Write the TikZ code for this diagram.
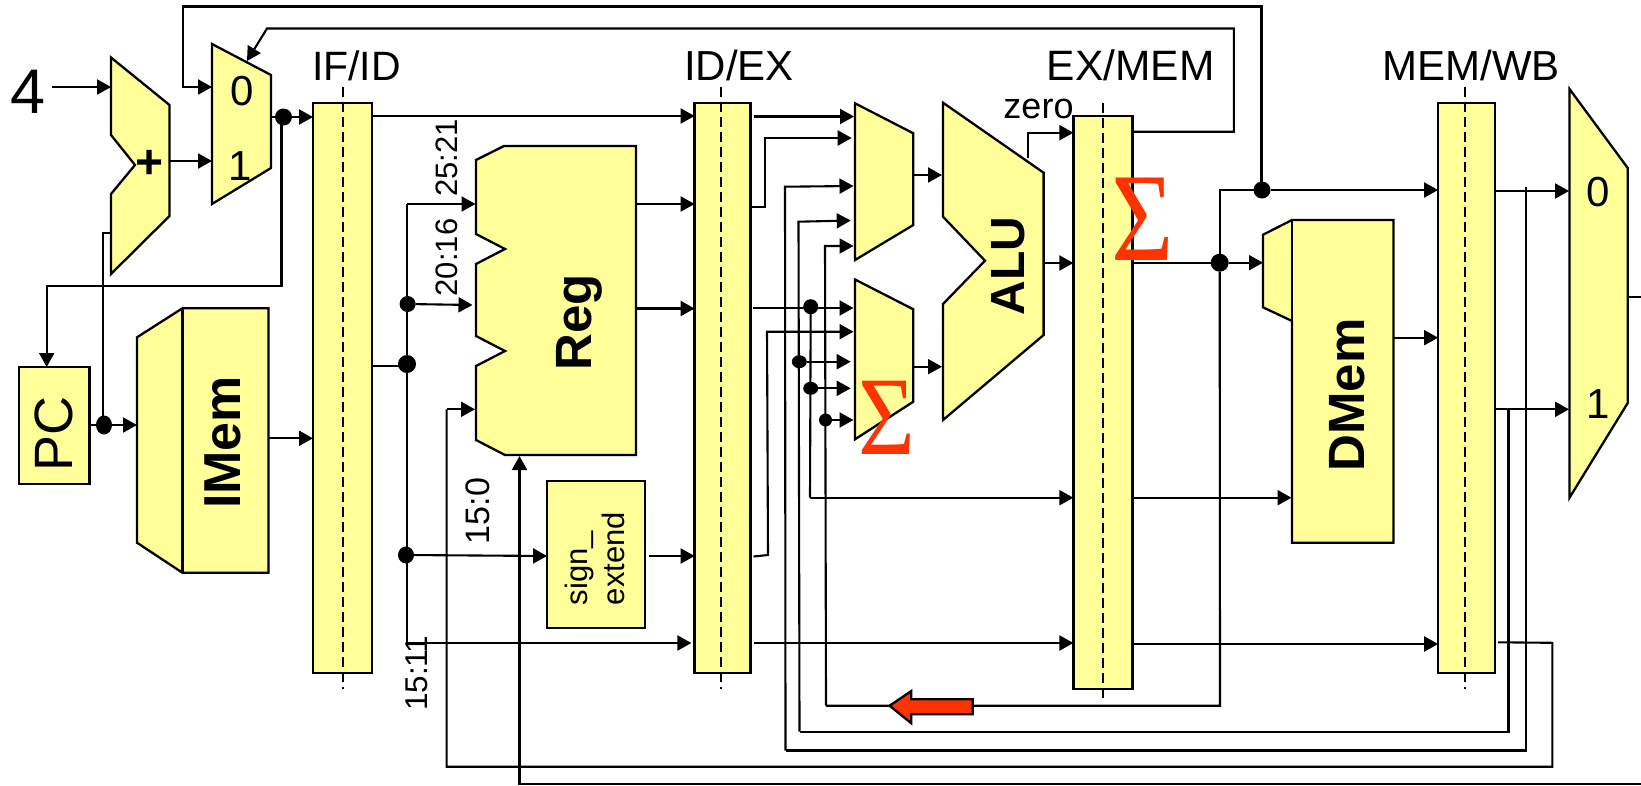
\documentclass[tikz,border=0pt]{standalone}
\usepackage{fontspec}
\setmainfont{Liberation Sans}
\newfontfamily\sigmaserif{Liberation Serif}
\usetikzlibrary{arrows.meta,shapes.geometric}
\newcommand\pxfont[1]{\fontsize{#1}{#1}\selectfont}
\definecolor{padyellow}{HTML}{FFFF99}
\definecolor{sigred}{HTML}{FF3300}
\tikzset{
  wire/.style={draw=black,line width=2.1pt,line join=miter},
  arr/.style={wire,-{Triangle[length=14pt,width=15pt]}},
  unit/.style={draw=black,fill=padyellow,line width=2.3pt,line join=miter},
  bar/.style={unit,rectangle,inner sep=0pt,outer sep=0pt,minimum width=#1},
  bar/.default=57pt,
  dot/.style={ellipse,fill=black,inner sep=0pt,outer sep=0pt,minimum width=#1,minimum height=#1},
  dot/.default=16pt,
  dash line/.style={draw=black,line width=2pt,dash pattern=on 10pt off 5pt},
  rot/.style={rotate=90,anchor=base,inner sep=0pt,outer sep=0pt},
  rotstart/.style={rotate=90,anchor=base west,inner sep=0pt,outer sep=0pt},
  txt/.style={inner sep=0pt,outer sep=0pt,anchor=base},
}
\begin{document}
\begin{tikzpicture}[x=1pt,y=-1pt]
\useasboundingbox (0,0) rectangle (1641,785);
% pipeline registers
\node[bar=59pt,minimum height=570pt] (ifid) at (342.5,388) {};
\node[bar=56pt,minimum height=570pt] (idex) at (722.6,388) {};
\node[bar=59pt,minimum height=573pt] (exmem) at (1102.9,402.6) {};
\node[bar=57pt,minimum height=570pt] (memwb) at (1466.6,388) {};
\coordinate (ifidT) at (342.5,87); \coordinate (ifidB) at (342.5,689);
\coordinate (idexT) at (721.2,87); \coordinate (idexB) at (721.2,689);
\coordinate (exmemT) at (1102.6,103); \coordinate (exmemB) at (1102.6,702);
\coordinate (memwbT) at (1465.3,87); \coordinate (memwbB) at (1465.3,689);
\draw[dash line] (ifidT) -- (ifidB);
\draw[dash line] (idexT) -- (idexB);
\draw[dash line] (exmemT) -- (exmemB);
\draw[dash line] (memwbT) -- (memwbB);
% register labels
\node[txt,font=\pxfont{41}] (lifid) at (356.5,80) {IF/ID};
\node[txt,font=\pxfont{42}] (lidex) at (739,80) {ID/EX};
\node[txt,font=\pxfont{42.5}] (lexmem) at (1130.6,80) {EX/MEM};
\node[txt,font=\pxfont{42}] (lmemwb) at (1471,80) {MEM/WB};
% functional units
\draw[unit] (111,57.5) -- (169.5,105) -- (169.5,216) -- (111,274) -- (111,194) -- (135,165) -- (111,135) -- cycle;
\node[inner sep=0pt,font=\pxfont{48}\bfseries] (plus) at (150,164) {+};
\draw[unit] (212,44) -- (271,75) -- (271,168) -- (212,204) -- cycle;
\node[txt,font=\pxfont{42}] (mz) at (242,105) {0};
\node[txt,font=\pxfont{42}] (mo) at (240.5,180) {1};
\node[unit,rectangle,inner sep=0pt,outer sep=0pt,minimum width=70.2pt,minimum height=117pt] (pc) at (54.4,425.5) {};
\node[rot,font=\pxfont{54}] (pct) at (72.5,434) {PC};
\draw[unit] (137,337.3) -- (182.4,308.3) -- (268.4,308.3) -- (268.4,572.7) -- (182.4,572.7) -- (137,542.7) -- cycle;
\draw[unit] (182.4,308.3) -- (182.4,572.7);
\node[rot,font=\pxfont{52}\bfseries] (imemt) at (240,442.5) {IMem};
\draw[unit] (476,160) -- (504,146) -- (636,146) -- (636,455) -- (505,455) -- (476,440) -- (476,366) -- (505,351) -- (476,336) -- (476,264) -- (505,249) -- (476,234) -- cycle;
\node[rot,font=\pxfont{51}\bfseries] (regt) at (591.4,322) {Reg};
\node[unit,rectangle,inner sep=0pt,outer sep=0pt,minimum width=97.7pt,minimum height=147pt] (sx) at (595.9,554.5) {};
\node[rotstart,font=\pxfont{31}] (sxa) at (587.5,605) {sign\_};
\node[rotstart,font=\pxfont{31}] (sxb) at (624.7,605) {extend};
\draw[unit] (855,103.3) -- (913.3,133.3) -- (913.3,225) -- (855,260) -- cycle;
\draw[unit] (855,279.5) -- (913.3,309.3) -- (913.3,401.7) -- (855,439.3) -- cycle;
\draw[unit] (943,102.7) -- (1043.6,172.7) -- (1043.6,335) -- (943,420) -- (943,304) -- (985,260.7) -- (943,216.7) -- cycle;
\node[rot,font=\pxfont{48}\bfseries] (alut) at (1024.3,266) {ALU};
\node[txt,font=\pxfont{36}] (zerot) at (1038.5,118) {zero};
\draw[unit] (1263,234.7) -- (1292,220) -- (1393.4,220) -- (1393.4,542.7) -- (1292,542.7) -- (1292,321) -- (1263,307.3) -- cycle;
\draw[unit] (1292,220) -- (1292,542.7);
\node[rot,font=\pxfont{51}\bfseries] (dmemt) at (1364,395) {DMem};
\draw[unit] (1569.5,89) -- (1627.7,168) -- (1627.7,403) -- (1569.5,497.7) -- cycle;
\node[txt,font=\pxfont{42}] (wz) at (1598.5,206) {0};
\node[txt,font=\pxfont{42}] (wo) at (1598.5,418) {1};
% other labels
\node[txt,font=\pxfont{63}] (four) at (28,113) {4};
\node[rot,font=\pxfont{31}] (l2521) at (457,158) {25:21};
\node[rot,font=\pxfont{31}] (l2016) at (457,257.5) {20:16};
\node[rot,font=\pxfont{34}] (l150) at (489.4,511) {15:0};
\node[rot,font=\pxfont{31.5}] (l1511) at (427.3,673.5) {15:1\kern-4pt 1};
% junction dots
\node[dot=17pt] (dmux) at (283.5,117) {};
\node[dot=16pt,minimum height=19pt] (dpc) at (104,425) {};
\node[dot=18pt] (dif) at (407,364) {};
\node[dot=16pt] (drs) at (407.6,304) {};
\node[dot=16pt,minimum height=17pt] (dimm) at (406,555) {};
\node[dot=15pt] (db1) at (810.7,306.7) {};
\node[dot=15pt,minimum height=13pt] (db3) at (799.3,361.7) {};
\node[dot=15pt,minimum height=13pt] (db4) at (810.7,388.3) {};
\node[dot=13pt] (db5) at (825.5,420) {};
\node[dot=18pt] (dalu) at (1219.7,262.7) {};
\node[dot=17pt] (dwb) at (1262,190) {};
% free ends
\coordinate (pcback) at (46.7,285.7);
\coordinate (vtop) at (407,204);
\coordinate (vbot) at (407,643);
\coordinate (fbt) at (1261.5,6.5);
\coordinate (ctl) at (267,28.5);
\coordinate (ctr) at (1233.8,28.5);
\coordinate (xa) at (785.5,750.5);
\coordinate (xb) at (799.5,731.7);
\coordinate (xc) at (826,705.7);
\coordinate (xd) at (1526,750.5);
\coordinate (xe) at (1508.5,731.7);
\coordinate (xf) at (1220,705.7);
\coordinate (botR) at (1641,784);
\coordinate (botL) at (519.5,784);
\coordinate (ret) at (1552.3,642.8);
\coordinate (retb) at (1552.3,766.7);
\coordinate (retl) at (446.6,766.7);
% fetch
\draw[arr] (52,87) -- (111,87);
\draw[arr] (169.5,161) -- (212,161);
\draw[arr] (fbt |- dwb) -- (fbt) -| (182.8,87) -- (212,87);
\draw[arr] (1132.4,131.7) -- (1233.8,131.7) -- (ctr) -- (ctl) -- (247,61);
\draw[wire] (271,117) -- (dmux);
\draw[arr] (dmux) -- (ifid.west |- dmux);
\draw[arr] (281.5,117) -- (281.5,285.7) -- (pcback) -- (pcback |- pc.north);
\draw[wire] (pc.east |- dpc) -- (dpc);
\draw[arr] (dpc) -- (137,425);
\draw[wire] (102.8,425) -- (102.8,233) -- (111,233);
\draw[arr] (268.4,438.3) -- (ifid.west |- 0,438.3);
% decode
\draw[wire] (ifid.east |- 0,366) -- (407,366);
\draw[wire] (vtop) -- (vbot);
\draw[arr] (vtop) -- (475.5,204);
\draw[arr] (drs) -- (472.5,305);
\draw[arr] (dimm) -- (sx.west |- 0,556);
\draw[arr] (vbot) -- (691.4,643);
\draw[arr] (ifid.east |- 0,116) -- (idex.west |- 0,116);
\draw[arr] (636,204) -- (idex.west |- 0,204);
\draw[arr] (636,308.5) -- (idex.west |- 0,308.5);
\draw[arr] (649.3,556) -- (idex.west |- 0,556);
% execute inputs
\draw[arr] (753.5,116.5) -- (854,116.5);
\draw[arr] (idex.east |- 0,206.7) -- (765,206.7) -- (765,138) -- (851.7,138);
\draw[arr] (xa) -- (785,186.7) -- (853.5,186);
\draw[arr] (xb) -- (798.5,221.7) -- (850.7,220.5);
\draw[arr] (xc) -- (825,246) -- (853.5,246);
\draw[arr] (753.3,308) -- (853.5,308);
\draw[arr] (753.5,556.5) -- (768,555) -- (767,331.7) -- (853.5,331.7);
\draw[arr] (db3) -- (850.7,361.7);
\draw[arr] (db4) -- (850.7,388.3);
\draw[arr] (db5) -- (853.5,420);
\draw[wire] (db1) -- (810,497.7);
\draw[arr] (810,497.7) -- (exmem.west |- 0,497.7);
\draw[arr] (753.5,643) -- (exmem.west |- 0,643);
\draw[arr] (913.3,175) -- (942,175);
\draw[arr] (913.3,366.7) -- (942,366.7);
\draw[arr] (1027.8,158) -- (1027.8,132.7) -- (exmem.west |- 0,132.7);
\draw[arr] (1043.6,263) -- (exmem.west |- 0,263);
% memory
\draw[wire] (exmem.east |- dalu) -- (dalu);
\draw[arr] (dalu) -- (1263,262.7);
\draw[wire] (dalu) |- (dwb);
\draw[arr] (dwb) -- (memwb.west |- dwb);
\draw[arr] (exmem.east |- 0,497.7) -- (1291.5,497.7);
\draw[arr] (exmem.east |- 0,644) -- (memwb.west |- 0,644);
\draw[arr] (1393.4,337.7) -- (memwb.west |- 0,337.7);
% write back and forwarding
\draw[arr] (memwb.east |- 0,191) -- (1569,191);
\draw[arr] (1496,409.3) -- (1569,409.3);
\draw[wire] (1526,187) -- (xd) -- (xa);
\draw[wire] (1508.5,410) -- (xe) -- (xb);
\draw[wire] (dalu) -- (xf) -- (xc);
\draw[wire] (1498,642.3) -- (ret) -- (retb) -- (retl) -- (446.6,409.3);
\draw[arr] (446.6,409.3) -- (475,409.3);
\draw[arr] (botR) -- (botL) -- (519.5,456);
\draw[wire] (1628,297) -- (1641,297);
% red arrow
\draw[fill=sigred,draw=black,line width=2.3pt,line join=miter] (889.6,705.7) -- (911.3,691) -- (911.3,699.3) -- (972.7,699.3) -- (972.7,714.3) -- (911.3,714.3) -- (911.3,723.3) -- cycle;
% sigmas
\node[inner sep=0pt,text=sigred,font=\sigmaserif\pxfont{126}] (sig1) at (1143,219.5) {\scalebox{.85}[1]{Σ}};
\node[inner sep=0pt,text=sigred,font=\sigmaserif\pxfont{112}] (sig2) at (887,418) {\scalebox{.87}[1]{Σ}};
\end{tikzpicture}
\end{document}
